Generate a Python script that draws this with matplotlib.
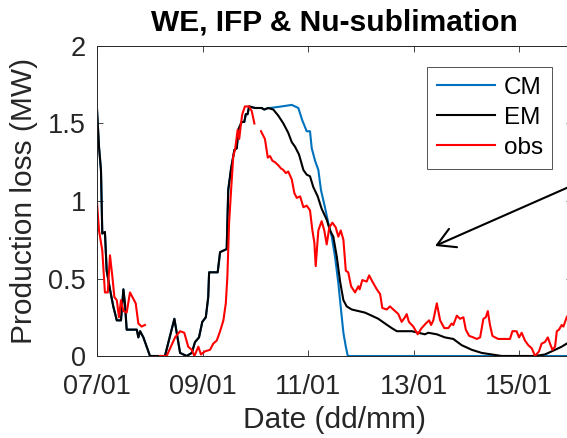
import numpy as np
import matplotlib
matplotlib.use("Agg")
import matplotlib.pyplot as plt

plt.rcParams['font.family'] = ['Liberation Sans', 'DejaVu Sans']

# hours after 07/01 00:00 and production loss (MW)
em_h = [0, 0.9, 1.8, 2.4, 3.6, 4.4, 5.9, 7.4, 9.0, 10.9, 12.0, 12.7, 13.5, 18.1, 18.8,
        19.6, 21.1, 22.6, 24.1, 30.9, 35.2, 37.8, 40.8, 43.1, 44.6, 46.4, 47.9, 49.5,
        50.6, 51.0, 54.9, 56.0, 59.0, 59.7, 61.0, 62.5, 63.6, 64.3, 65.8, 67.0, 67.7,
        68.5, 69.2, 71.9, 74.9, 76.1, 77.9, 80.2, 82.5, 84.8, 87.0, 88.6, 90.1, 91.9,
        93.9, 95.4, 96.9, 98.4, 100.4, 102.2, 104.5, 106.0, 107.5, 109.1, 110.6, 112.1,
        113.6, 115.9, 118.9, 121.9, 125.0, 128.0, 131.0, 134.1, 136.4, 143.2, 146.2,
        149.2, 150.7, 154.6, 158.3, 162.1, 165.9, 170.5, 175.0, 179.6, 184.1, 199.3,
        203.8, 208.4, 211.4, 213.7, 218.0]
em_v = [1.59, 1.35, 1.20, 0.79, 0.80, 0.55, 0.43, 0.32, 0.23, 0.23, 0.43, 0.34, 0.17,
        0.17, 0.12, 0.16, 0.12, 0.06, 0.0, 0.0, 0.24, 0.02, 0.0, 0.02, 0.09, 0.12, 0.22,
        0.25, 0.38, 0.54, 0.54, 0.67, 0.69, 1.07, 1.21, 1.33, 1.34, 1.46, 1.51, 1.51,
        1.56, 1.56, 1.61, 1.60, 1.60, 1.59, 1.60, 1.59, 1.55, 1.50, 1.44, 1.38, 1.35,
        1.30, 1.20, 1.17, 1.16, 1.09, 1.03, 0.95, 0.88, 0.81, 0.77, 0.64, 0.48, 0.36,
        0.32, 0.30, 0.29, 0.28, 0.26, 0.24, 0.21, 0.18, 0.16, 0.16, 0.15, 0.14, 0.15,
        0.14, 0.12, 0.11, 0.07, 0.04, 0.02, 0.01, 0.0, 0.0, 0.01, 0.04, 0.06, 0.08, 0.11]

# CM follows EM until the morning of 10/01, then stays saturated longer
cm_split = 78.0
cm_h = [78.7, 84.0, 88.6, 90.1, 91.6, 93.4, 95.4, 96.9, 97.7, 99.2, 100.7, 101.9,
        103.7, 105.2, 106.8, 108.3, 109.8, 111.0, 112.1, 113.2, 114.1, 218.0]
cm_v = [1.60, 1.61, 1.62, 1.61, 1.60, 1.52, 1.45, 1.45, 1.34, 1.26, 1.20, 1.07,
        0.96, 0.86, 0.77, 0.64, 0.47, 0.30, 0.15, 0.06, 0.0, 0.0]

obs_h = [0, 0.9, 2.4, 3.6, 4.9, 5.9, 7.0, 7.9, 9.0, 10.0, 10.9, 12.0, 13.5, 15.0, 16.5,
         17.6, 18.8, 20.3, 21.8, 25.0,
         28.7, 31.7, 35.5, 37.8, 39.7, 41.5, 43.1, 44.3, 46.1, 47.3, 49.1, 51.4, 52.9,
         54.5, 56.0, 57.5, 58.6, 59.3, 60.1, 61.0, 62.0, 62.8, 64.0, 64.7, 65.5, 66.1,
         67.3, 69.2, 70.4, 71.6, 73.0,
         74.6, 76.4, 77.7, 78.7, 79.8, 81.0, 82.5, 83.7, 84.8, 85.9, 87.0, 88.6, 89.8,
         90.9, 92.4, 93.9, 95.4, 96.9, 98.0, 98.9, 99.5, 100.7, 102.2, 103.4, 104.5,
         105.7, 107.1, 108.6, 109.8, 110.9, 112.1, 113.2, 114.3, 115.6, 117.4, 118.9,
         119.5, 120.7, 122.7, 123.8, 125.3, 127.3, 128.8, 129.8, 131.8, 133.3, 134.8,
         136.4, 137.1, 138.6, 140.1, 140.9, 141.9, 143.9, 145.9, 147.7, 149.6, 151.1,
         152.0, 153.0, 154.6, 156.1, 158.0, 159.8, 161.4, 162.1, 163.7, 165.2, 166.7,
         167.8, 169.3, 171.2, 172.8, 174.3, 175.8, 176.9, 177.8, 178.8, 179.9, 181.1,
         182.6, 185.6, 187.9, 189.0, 190.9, 192.0, 193.2, 194.7, 196.2, 197.8, 199.3,
         201.1, 202.3, 203.8, 205.1, 206.1, 207.2, 208.4, 209.2, 210.2, 211.4, 212.2,
         213.7, 216.0]
obs_v = [0.99, 0.81, 0.68, 0.41, 0.41, 0.65, 0.51, 0.38, 0.36, 0.25, 0.36, 0.29, 0.28,
         0.41, 0.37, 0.34, 0.21, 0.19, 0.20, np.nan,
         0.0, 0.0, 0.12, 0.16, 0.15, 0.06, 0.04, 0.0, 0.06, 0.01, 0.03, 0.04, 0.08,
         0.10, 0.16, 0.23, 0.34, 0.51, 0.86, 1.07, 1.29, 1.33, 1.46, 1.40, 1.50, 1.56,
         1.61, 1.61, 1.58, 1.50, np.nan,
         1.45, 1.40, 1.28, 1.29, 1.26, 1.25, 1.23, 1.21, 1.20, 1.18, 1.19, 1.14, 1.05,
         1.02, 1.03, 0.96, 0.97, 0.94, 0.81, 0.73, 0.58, 0.81, 0.87, 0.81, 0.72,
         0.83, 0.86, 0.83, 0.77, 0.81, 0.75, 0.55, 0.54, 0.45, 0.41, 0.45,
         0.43, 0.49, 0.48, 0.52, 0.48, 0.43, 0.40, 0.31, 0.30, 0.32, 0.30,
         0.28, 0.27, 0.22, 0.25, 0.27, 0.22, 0.19, 0.14, 0.18, 0.21, 0.23,
         0.20, 0.23, 0.34, 0.23, 0.18, 0.18, 0.21, 0.20, 0.26, 0.24, 0.25,
         0.17, 0.13, 0.12, 0.11, 0.12, 0.24, 0.25, 0.29, 0.20, 0.13, 0.12,
         0.11, 0.11, 0.11, 0.16, 0.16, 0.12, 0.15, 0.10, 0.07, 0.05, 0.00,
         0.03, 0.08, 0.09, 0.12, 0.08, 0.04, 0.06, 0.16, 0.17, 0.20, 0.19,
         0.25, 0.30]

tick_hours = [0, 48, 96, 144, 192]
tick_labels = ['07/01', '09/01', '11/01', '13/01', '15/01']

em_h = np.array(em_h)
em_v = np.array(em_v)
early = em_h < cm_split
cm_all_h = np.concatenate([em_h[early], cm_h])
cm_all_v = np.concatenate([em_v[early], cm_v])

axcol = '#262626'
fig = plt.figure(figsize=(5.67, 4.38), dpi=100)
ax = fig.add_axes([0.1711, 0.1872, 0.8373, 0.7078])

ax.plot(cm_all_h, cm_all_v, color='#0072BD', lw=1.5, label='CM')
ax.plot(em_h, em_v, color='black', lw=1.5, label='EM')
ax.plot(obs_h, obs_v, color='#FF0000', lw=1.5, label='obs')

ax.set_xlim(0, 216)
ax.set_ylim(0, 2)
ax.set_xticks(tick_hours)
ax.set_xticklabels(tick_labels)
ax.set_yticks([0, 0.5, 1, 1.5, 2])
ax.set_yticklabels(['0', '0.5', '1', '1.5', '2'])
ax.tick_params(direction='in', length=4, width=0.6, top=True, right=True,
               labelsize=19.5, colors=axcol)
ax.tick_params(axis='x', pad=13)
ax.tick_params(axis='y', pad=8)
for s in ax.spines.values():
    s.set_color(axcol)
    s.set_linewidth(0.7)

ax.set_xlabel('Date (dd/mm)', fontsize=21.5, color=axcol, labelpad=4)
ax.set_ylabel('Production loss (MW)', fontsize=21.5, color=axcol, labelpad=7)
ax.set_title('WE, IFP & Nu-sublimation', fontsize=21.5, fontweight='bold', pad=11)

leg = ax.legend(loc='upper left', bbox_to_anchor=(0.695, 0.932), fontsize=17.5,
                frameon=True, fancybox=False, handlelength=2.4, handletextpad=0.35,
                labelspacing=0.33, borderpad=0.4, borderaxespad=0)
leg.get_frame().set_edgecolor(axcol)
leg.get_frame().set_linewidth(0.7)

ax.annotate('', xy=(153.8, 0.71), xytext=(238, 1.236), annotation_clip=False,
            arrowprops=dict(arrowstyle='->,head_length=0.63,head_width=0.36',
                            mutation_scale=20, lw=1.5, color='black',
                            shrinkA=0, shrinkB=0))

fig.savefig('out.png', dpi=100)
